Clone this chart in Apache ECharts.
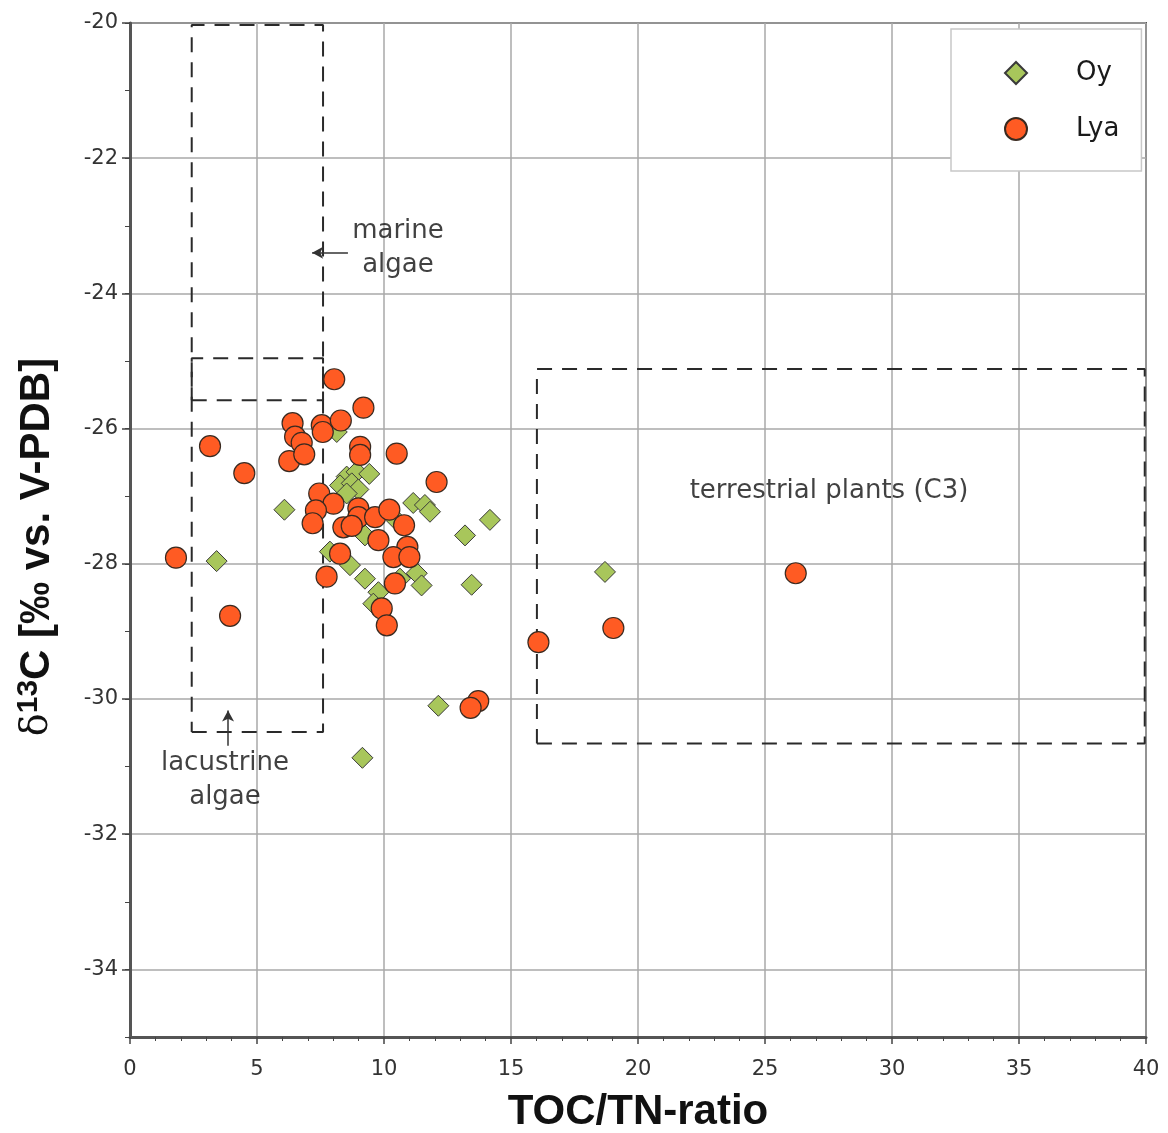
<!DOCTYPE html>
<html><head><meta charset="utf-8">
<script src="https://cdn.jsdelivr.net/npm/echarts@6/dist/echarts.min.js"></script>
<style>html,body{margin:0;padding:0;background:#fff}#chart{width:1168px;height:1133px}</style>
</head><body><div id="chart"></div>
<script>
// ---- data ----
const seriesNames = ['Oy', 'Lya'];
const oyX = [3.41, 6.08, 8.14, 8.53, 8.92, 9.42, 8.27, 8.73, 8.99, 8.53, 11.15, 11.61, 11.81, 14.17, 13.19, 13.45, 9.25, 10.50, 7.87, 8.66, 9.25, 9.78, 9.58, 10.63, 11.29, 11.48, 18.70, 12.14, 9.15];
const oyY = [-27.96, -27.20, -26.05, -26.71, -26.64, -26.67, -26.84, -26.81, -26.90, -26.96, -27.10, -27.13, -27.23, -27.35, -27.58, -28.31, -27.58, -27.36, -27.82, -28.02, -28.22, -28.42, -28.59, -28.22, -28.14, -28.32, -28.12, -30.10, -30.87];
const lyaX = [1.81, 3.15, 4.50, 3.94, 8.04, 6.40, 6.50, 6.76, 6.27, 6.86, 7.55, 7.59, 8.30, 9.19, 9.06, 9.06, 10.50, 12.07, 7.45, 8.01, 7.32, 7.19, 8.99, 8.99, 8.40, 8.73, 9.65, 10.21, 10.79, 9.78, 10.92, 8.27, 7.74, 10.37, 11.00, 10.43, 9.91, 10.11, 26.21, 19.03, 16.08, 13.71, 13.41];
const lyaY = [-27.91, -26.26, -26.66, -28.77, -25.27, -25.92, -26.12, -26.21, -26.48, -26.38, -25.95, -26.05, -25.88, -25.69, -26.27, -26.39, -26.37, -26.79, -26.96, -27.11, -27.21, -27.40, -27.18, -27.31, -27.46, -27.44, -27.31, -27.20, -27.43, -27.65, -27.75, -27.85, -28.19, -27.90, -27.90, -28.29, -28.66, -28.91, -28.14, -28.95, -29.16, -30.03, -30.13];
const yMajorTicks = [-34, -32, -30, -28, -26, -24, -22, -20];
// source regions (x range, y range)
const marineBoxX = [2.43, 7.6], marineBoxY = [-25.58, -20.03];
const lacustrineBoxX = [2.43, 7.6], lacustrineBoxY = [-30.49, -24.96];
const terrestrialBoxX = [16.02, 39.95], terrestrialBoxY = [-30.66, -25.12];
const annotationTexts = ['marine\nalgae', 'lacustrine\nalgae', 'terrestrial plants (C3)'];
const annotationX = [10.55, 3.74, 27.52];
const annotationY = [-23.33, -31.2, -26.93];
const arrowFrom = [[8.58, -23.40], [3.86, -30.69]];
const arrowTo = [[7.17, -23.40], [3.86, -30.17]];

// ---- build ----
const zip = (xs, ys) => xs.map((x, i) => [x, ys[i]]);
const boxPath = (bx, by) => [[bx[0], by[0]], [bx[1], by[0]], [bx[1], by[1]], [bx[0], by[1]], [bx[0], by[0]]];
const dashStyle = {color: '#2a2a2a', width: 2, type: [15, 10]};
const boxSeries = (path) => ({type: 'line', data: path, symbol: 'none', silent: true, lineStyle: dashStyle, z: 1});

const chart = echarts.init(document.getElementById('chart'), null, {renderer: 'canvas'});
const axisFont = 'DejaVu Sans';
chart.setOption({
  animation: false,
  backgroundColor: '#fff',
  grid: {left: 130, right: 22, top: 23, bottom: 96, containLabel: false, outerBoundsMode: 'none',
         show: true, borderColor: '#555', borderWidth: 2, backgroundColor: '#fff'},
  legend: {
    data: seriesNames, orient: 'vertical', left: 951, top: 29, selectedMode: false,
    padding: [31, 22, 29, 53], itemWidth: 22, itemHeight: 22, itemGap: 30,
    backgroundColor: '#fff', borderColor: '#c8c8c8', borderWidth: 1.5,
    textStyle: {fontFamily: axisFont, fontSize: 26, color: '#1a1a1a', lineHeight: 24, padding: [0, 0, 0, 44]}
  },
  xAxis: {
    type: 'value', min: 0, max: 40, interval: 5,
    axisLine: {show: true, onZero: false, lineStyle: {color: '#555', width: 3}},
    axisTick: {show: true, length: 7, lineStyle: {color: '#444', width: 1.5}},
    minorTick: {show: true, splitNumber: 5, length: 4, lineStyle: {color: '#444', width: 1}},
    axisLabel: {fontFamily: axisFont, fontSize: 21, color: '#333', margin: 22},
    splitLine: {show: true, lineStyle: {color: '#a8a8a8', width: 1.5}},
    name: 'TOC/TN-ratio', nameLocation: 'middle', nameGap: 54,
    nameTextStyle: {fontFamily: 'Liberation Sans', fontWeight: 'bold', fontSize: 42, color: '#111'}
  },
  yAxis: [{
    type: 'value', min: -35, max: -20, interval: 1,
    axisLine: {show: true, onZero: false, lineStyle: {color: '#555', width: 3}},
    axisTick: {show: true, customValues: yMajorTicks, length: 8, lineStyle: {color: '#444', width: 1.5}},
    axisLabel: {customValues: yMajorTicks, fontFamily: axisFont, fontSize: 21, color: '#333', margin: 12},
    splitLine: {show: true, lineStyle: {color: '#a8a8a8', width: 1.5}},
    name: '{d|δ}{s|13}{b|C [‰ vs. V-PDB]}', nameLocation: 'middle', nameGap: 70, nameRotate: 90,
    nameTextStyle: {
      color: '#111', padding: [0, 34, 0, 0],
      rich: {
        d: {fontFamily: 'DejaVu Serif', fontSize: 38, color: '#111'},
        s: {fontFamily: 'Liberation Sans', fontWeight: 'bold', fontSize: 30, color: '#111', padding: [0, 0, 16, 0]},
        b: {fontFamily: 'Liberation Sans', fontWeight: 'bold', fontSize: 42, color: '#111'}
      }
    }
  }, {
    type: 'value', min: -35, max: -20, interval: 1, position: 'left',
    axisLine: {show: false}, axisLabel: {show: false}, splitLine: {show: false},
    axisTick: {show: true, length: 5, lineStyle: {color: '#444', width: 1}}
  }],
  series: [
    boxSeries(boxPath(marineBoxX, marineBoxY)),
    boxSeries(boxPath(lacustrineBoxX, lacustrineBoxY)),
    boxSeries(boxPath(terrestrialBoxX, terrestrialBoxY)),
    {
      type: 'line', data: [], silent: true,
      markLine: {
        silent: true, symbol: ['none', 'arrow'], symbolSize: [9, 11],
        lineStyle: {color: '#333', width: 1.5, type: 'solid'}, label: {show: false},
        data: arrowFrom.map((f, i) => [{coord: f}, {coord: arrowTo[i]}])
      }
    },
    {
      type: 'scatter', silent: true, symbolSize: 1, itemStyle: {color: 'rgba(0,0,0,0)'}, z: 3,
      data: annotationTexts.map((t, i) => ({name: t, value: [annotationX[i], annotationY[i]]})),
      label: {show: true, position: 'inside', formatter: p => p.name, fontFamily: axisFont, fontSize: 26, color: '#111', lineHeight: 34, align: 'center'}
    },
    {
      name: 'Oy', type: 'scatter', symbol: 'diamond', symbolSize: 21, z: 4,
      itemStyle: {color: '#a8c65b', borderColor: '#3a3a3a', borderWidth: 1, opacity: 1},
      data: zip(oyX, oyY)
    },
    {
      name: 'Lya', type: 'scatter', symbol: 'circle', symbolSize: 21, z: 5,
      itemStyle: {color: '#ff5b23', borderColor: '#3a2a20', borderWidth: 1.2, opacity: 1},
      data: zip(lyaX, lyaY)
    }
  ]
});
</script></body></html>
